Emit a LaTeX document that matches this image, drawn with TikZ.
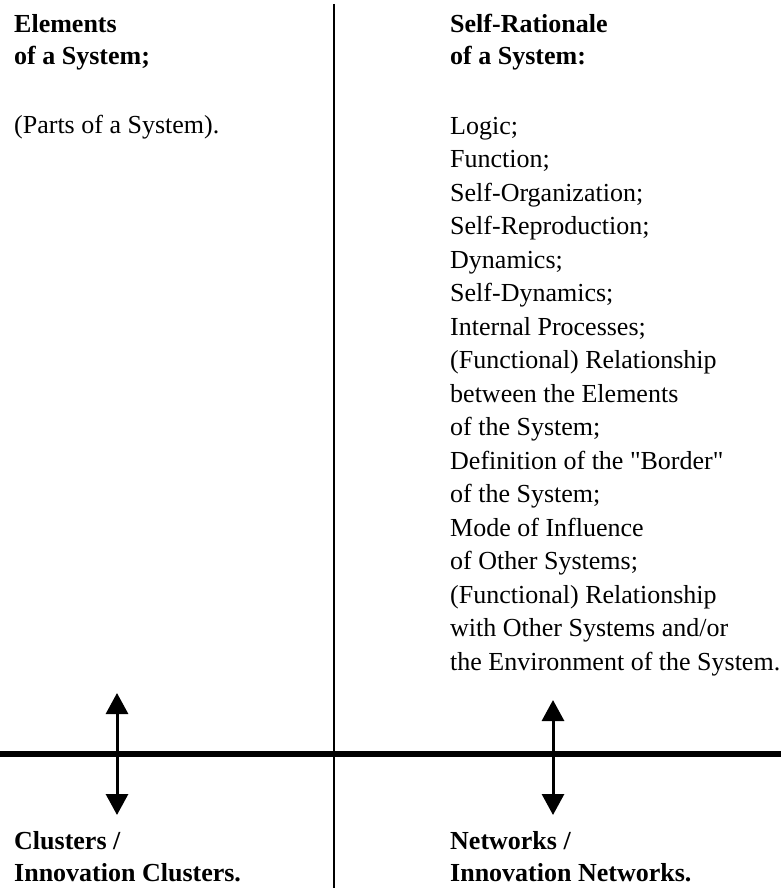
\documentclass[tikz,border=0pt]{standalone}
\usepackage{fontspec}
\setmainfont{Liberation Serif}
\newfontfamily\straightquote{Liberation Serif}
\usetikzlibrary{arrows.meta}

\begin{document}
\begin{tikzpicture}[x=1pt, y=-1pt]
    % Define styles
    \tikzstyle{heading} = [anchor=base west, inner sep=0pt, align=left, font=\fontsize{26}{32}\selectfont\bfseries]
    \tikzstyle{items} = [anchor=base west, inner sep=0pt, align=left, font=\fontsize{26}{33.5}\selectfont]
    \tikzstyle{arrow} = [line width=3pt, {Triangle[width=22pt,length=21pt]}-{Triangle[width=22pt,length=21pt]}]
    \useasboundingbox (0,0) rectangle (781,888);

    % Dividing lines
    \draw [line width=1.5pt] (334,4) -- (334,888);
    \draw [line width=6pt] (0,754) -- (781,754);

    % Nodes (placed at the baseline of their last line)
    \node [heading] (elements) at (14,65) {Elements\\of a System;};
    \node [items] (parts) at (14,134) {(Parts of a System).};
    \node [heading] (rationale) at (450,65) {Self-Rationale\\of a System:};
    \node [items] (list) at (450,670) {Logic;\\Function;\\Self-Organization;\\Self-Reproduction;\\Dynamics;\\Self-Dynamics;\\Internal Processes;\\(Functional) Relationship\\between the Elements\\of the System;\\Definition of the {\straightquote"}Border{\straightquote"}\\of the System;\\Mode of Influence\\of Other Systems;\\(Functional) Relationship\\with Other Systems and/or\\the Environment of the System.};
    \node [heading] (clusters) at (14,881) {Clusters /\\Innovation Clusters.};
    \node [heading] (networks) at (450,881) {Networks /\\Innovation Networks.};

    % Arrows
    \coordinate (lefttop) at (117,693);
    \coordinate (leftbottom) at (117,815);
    \coordinate (righttop) at (553,700);
    \coordinate (rightbottom) at (553,815);
    \draw [arrow] (lefttop) -- (leftbottom);
    \draw [arrow] (righttop) -- (rightbottom);
\end{tikzpicture}
\end{document}
